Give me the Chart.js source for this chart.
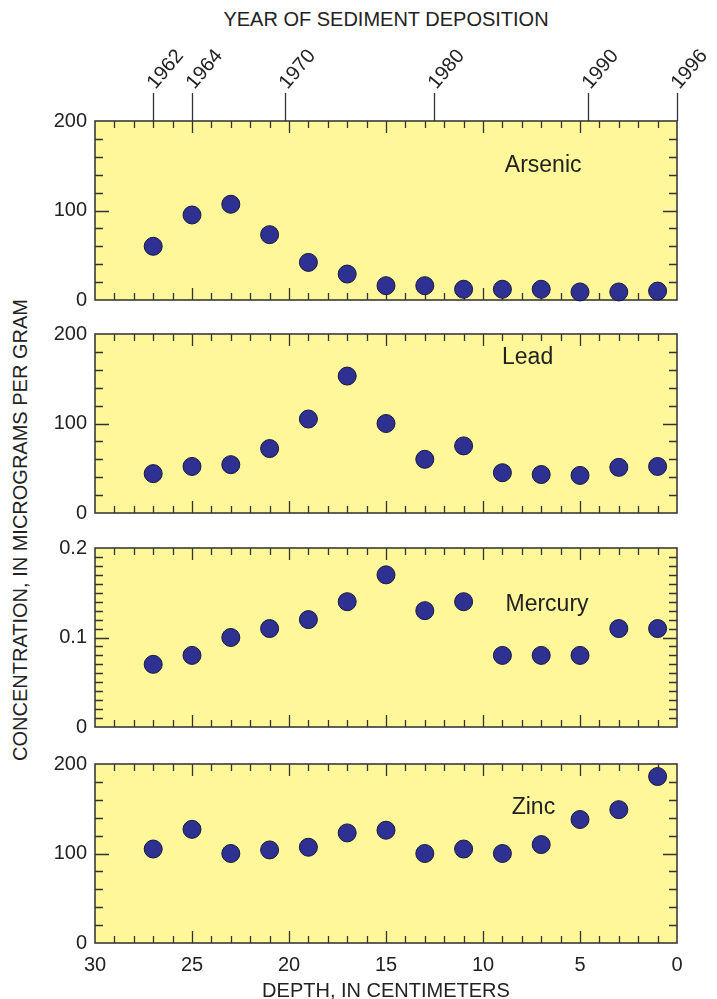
<!DOCTYPE html>
<html>
<head>
<meta charset="utf-8">
<script src="https://cdn.jsdelivr.net/npm/chart.js"></script>
<style>
    body {
        margin: 0;
        background: white;
        width: 717px;
        height: 999px;
        position: relative;
        overflow: hidden;
        font-family: 'Liberation Sans', Arial, sans-serif;
        color: #222;
    }
    .layer { position: absolute; left: 0; top: 0; }
    #topTitle {
        position: absolute; top: 8px; left: 95px; width: 582px;
        text-align: center; font-size: 20px; line-height: 22px;
    }
    #yTitle {
        position: absolute; left: 20px; top: 530px;
        transform: translate(-50%, -50%) rotate(-90deg);
        white-space: nowrap; font-size: 20px; line-height: 22px;
    }
</style>
</head>
<body>
<div id="topTitle">YEAR OF SEDIMENT DEPOSITION</div>
<div id="yTitle">CONCENTRATION, IN MICROGRAMS PER GRAM</div>
<canvas id="c1" class="layer" width="717" height="999"></canvas>
<canvas id="c2" class="layer" width="717" height="999"></canvas>
<canvas id="c3" class="layer" width="717" height="999"></canvas>
<canvas id="c4" class="layer" width="717" height="999"></canvas>

<script>
    // depth of each sample, in centimeters
    const depths = [27, 25, 23, 21, 19, 17, 15, 13, 11, 9, 7, 5, 3, 1];

    // concentrations, micrograms per gram
    const arsenic = [60, 95, 107, 73, 42, 29, 16, 16, 12, 12, 12, 9, 9, 10];
    const lead = [44, 52, 54, 72, 105, 153, 100, 60, 75, 45, 43, 42, 51, 52];
    const mercury = [0.07, 0.08, 0.10, 0.11, 0.12, 0.14, 0.17, 0.13, 0.14, 0.08, 0.08, 0.08, 0.11, 0.11];
    const zinc = [105, 127, 100, 104, 107, 123, 126, 100, 105, 100, 110, 138, 149, 186];

    // top axis: year of deposition at depth
    const years = ['1962', '1964', '1970', '1980', '1990', '1996'];
    const yearDepths = [27, 25, 20.2, 12.5, 4.6, 0];

    const FONT = "'Liberation Sans', Arial, sans-serif";
    Chart.defaults.font.family = FONT;
    Chart.defaults.color = '#222';

    const panelPlugin = {
        id: 'panel',
        beforeDraw(chart, args, opts) {
            const {ctx, chartArea: a} = chart;
            ctx.save();
            ctx.fillStyle = '#fff799';
            ctx.fillRect(a.left, a.top, a.width, a.height);
            ctx.restore();
        },
        beforeDatasetsDraw(chart, args, opts) {
            const {ctx, chartArea: a} = chart;
            const xs = chart.scales.x, ys = chart.scales.y;
            ctx.save();
            ctx.strokeStyle = '#333';
            ctx.lineWidth = 1.3;
            ctx.beginPath();
            // depth ticks, every centimeter
            for (let d = 1; d < 30; d++) {
                const px = Math.round(xs.getPixelForValue(d)) + 0.5;
                const len = d % 5 === 0 ? 12 : 7;
                ctx.moveTo(px, a.top); ctx.lineTo(px, a.top + len);
                ctx.moveTo(px, a.bottom); ctx.lineTo(px, a.bottom - len);
            }
            // concentration ticks
            for (let i = 1; i * opts.minor < opts.max - 1e-9; i++) {
                const v = i * opts.minor;
                const py = Math.round(ys.getPixelForValue(v)) + 0.5;
                const r = v / opts.major;
                const len = Math.abs(r - Math.round(r)) < 1e-6 ? 14 : 8;
                ctx.moveTo(a.left, py); ctx.lineTo(a.left + len, py);
                ctx.moveTo(a.right, py); ctx.lineTo(a.right - len, py);
            }
            ctx.stroke();

            // frame
            ctx.strokeStyle = '#3a3a3a';
            ctx.lineWidth = 1.6;
            ctx.strokeRect(a.left, a.top, a.width, a.height);

            // element name
            ctx.fillStyle = '#222';
            ctx.font = '23px ' + FONT;
            ctx.textAlign = 'center';
            ctx.textBaseline = 'middle';
            ctx.fillText(opts.label, xs.getPixelForValue(opts.labelAt[0]), ys.getPixelForValue(opts.labelAt[1]));

            // year axis above the top panel
            if (opts.years) {
                ctx.strokeStyle = '#333';
                ctx.lineWidth = 1.3;
                ctx.font = '20px ' + FONT;
                ctx.textAlign = 'left';
                ctx.textBaseline = 'alphabetic';
                years.forEach((yr, i) => {
                    const px = Math.round(xs.getPixelForValue(yearDepths[i])) + 0.5;
                    ctx.beginPath();
                    ctx.moveTo(px, a.top - 28);
                    ctx.lineTo(px, a.top);
                    ctx.stroke();
                    ctx.save();
                    ctx.translate(px + 2, a.top - 31);
                    ctx.rotate(-50 * Math.PI / 180);
                    ctx.fillText(yr, 0, 0);
                    ctx.restore();
                });
            }
            ctx.restore();
        }
    };

    const makeChart = (id, values, cfg) => {
        const bottom = cfg.bottom === true;
        const xScale = {
            type: 'linear',
            min: 0,
            max: 30,
            reverse: true,
            display: bottom,
            grid: {display: false, drawTicks: false},
            border: {display: false},
            ticks: {stepSize: 5, padding: 10, font: {size: 20}, color: '#222'},
            title: {display: true, text: 'DEPTH, IN CENTIMETERS', font: {size: 20}, color: '#222', padding: {top: 0, bottom: -4}}
        };
        if (bottom) xScale.afterFit = s => { s.height = 999 - cfg.bot; };

        new Chart(document.getElementById(id), {
            type: 'scatter',
            data: {
                datasets: [{
                    data: depths.map((d, i) => ({x: d, y: values[i]})),
                    pointRadius: 9,
                    pointHoverRadius: 9,
                    pointBackgroundColor: '#2e3192',
                    pointBorderColor: '#17173f',
                    pointBorderWidth: 1,
                    clip: false
                }]
            },
            options: {
                responsive: false,
                animation: false,
                events: [],
                layout: {
                    padding: {left: 0, right: 40, top: cfg.top, bottom: bottom ? 0 : 999 - cfg.bot}
                },
                plugins: {
                    legend: {display: false},
                    tooltip: {enabled: false},
                    panel: cfg.panel
                },
                scales: {
                    x: xScale,
                    y: {
                        min: 0,
                        max: cfg.max,
                        grid: {display: false, drawTicks: false},
                        border: {display: false},
                        ticks: {stepSize: cfg.max / 2, padding: 8, font: {size: 20}, color: '#222'},
                        afterFit: s => { s.width = 95; }
                    }
                }
            },
            plugins: [panelPlugin]
        });
    };

    makeChart('c1', arsenic, {top: 121, bot: 300, max: 200,
        panel: {minor: 20, major: 100, max: 200, label: 'Arsenic', labelAt: [6.9, 150], years: true}});
    makeChart('c2', lead, {top: 334, bot: 513, max: 200,
        panel: {minor: 20, major: 100, max: 200, label: 'Lead', labelAt: [7.7, 174]}});
    makeChart('c3', mercury, {top: 548, bot: 727, max: 0.2,
        panel: {minor: 0.01, major: 0.1, max: 0.2, label: 'Mercury', labelAt: [6.7, 0.137]}});
    makeChart('c4', zinc, {top: 764, bot: 943, max: 200, bottom: true,
        panel: {minor: 20, major: 100, max: 200, label: 'Zinc', labelAt: [7.4, 151]}});
</script>
</body>
</html>
